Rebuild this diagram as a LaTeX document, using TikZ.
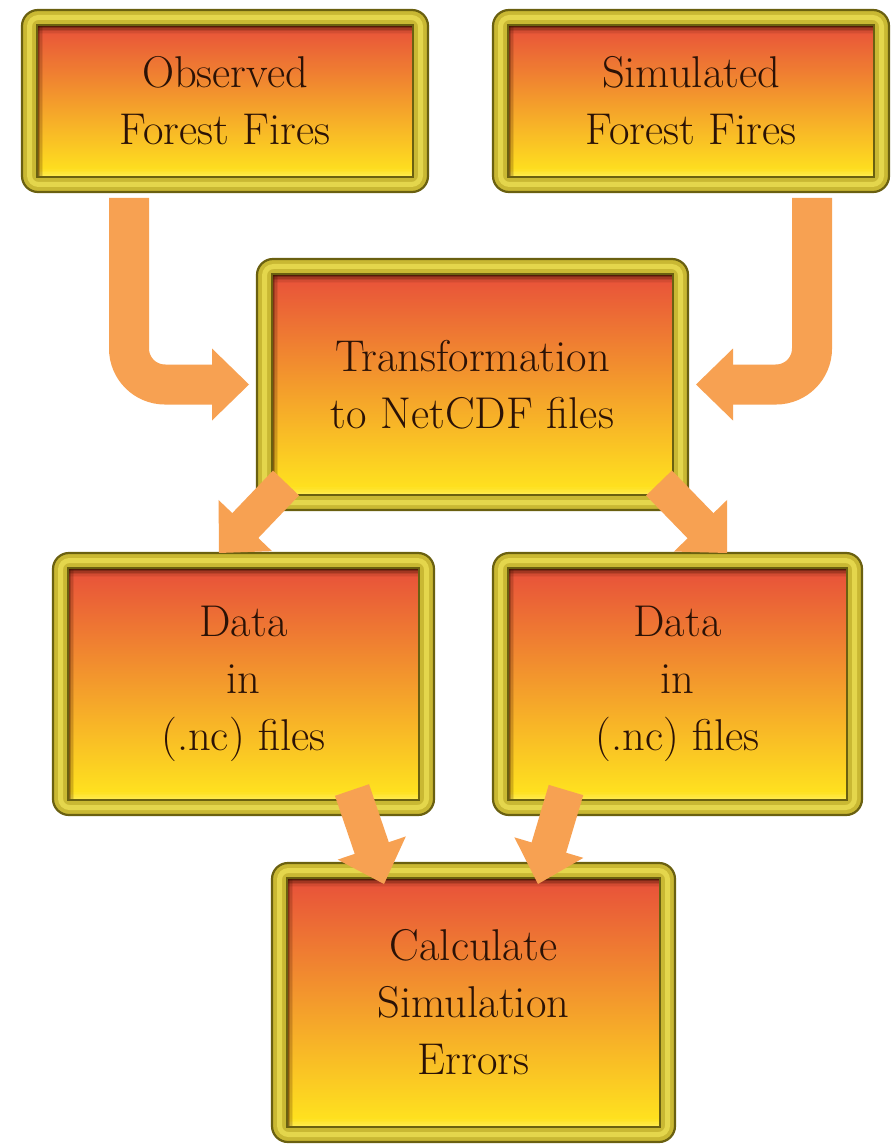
\documentclass[tikz,border=0pt]{standalone}
\usetikzlibrary{calc}
\definecolor{arrowcol}{HTML}{F7A152}
\definecolor{framecol}{HTML}{C9B833}
\definecolor{frameedge}{HTML}{6A6010}
\definecolor{framehi}{HTML}{E4D64C}
\definecolor{topcol}{HTML}{E8503A}
\definecolor{midcol}{HTML}{F4982E}
\definecolor{botcol}{HTML}{FFE61E}
\definecolor{txtcol}{HTML}{2B1206}
\definecolor{shadecol}{HTML}{3A1000}
\definecolor{lightstrip}{HTML}{FFF6A0}

\newcommand\blockarrow[4]{% start, tip, head half width, shaft width
  \coordinate (bab) at ($(#2)!38pt!(#1)$);
  \coordinate (bae) at ($(#2)!30pt!(#1)$);
  \draw[arrowcol, line width=#4] (#1) -- (bae);
  \fill[arrowcol] ($(bab)!#3!90:(#2)$) -- (#2) -- ($(bab)!#3!-90:(#2)$) -- cycle;}

\tikzset{
  fancybox/.style n args={2}{rectangle, rounded corners=16pt,
    minimum width=#1, minimum height=#2, inner sep=0pt, outer sep=0pt,
    fill=framecol, draw=frameedge, line width=2.2pt, align=center,
    text=txtcol, font=\fontsize{44.5}{57}\selectfont,
    path picture={
      \coordinate (ppsw) at (path picture bounding box.south west);
      \coordinate (ppne) at (path picture bounding box.north east);
      \coordinate (ppnw) at (path picture bounding box.north west);
      \coordinate (ppse) at (path picture bounding box.south east);
      \draw[framehi, line width=5pt, rounded corners=9pt]
        ($(ppsw)+(7.5pt,7.5pt)$) rectangle ($(ppne)+(-7.5pt,-7.5pt)$);
      \shade[sharp corners, top color=topcol, middle color=midcol, bottom color=botcol]
        ($(ppsw)+(15pt,15pt)$) rectangle ($(ppne)+(-15pt,-15pt)$);
      \foreach \d/\o in {1pt/0.35,2.5pt/0.28,4pt/0.2,5.5pt/0.12,7pt/0.06}
        \draw[sharp corners, lightstrip, opacity=\o, line width=1.6pt]
          ($(ppsw)+(15pt,15pt+\d)$) -- ($(ppse)+(-15pt,15pt+\d)$);
      \foreach \d/\o in {1pt/0.85,2.5pt/0.6,4pt/0.4,5.5pt/0.25,7pt/0.12,8.5pt/0.05}
        \draw[sharp corners, shadecol, opacity=\o, line width=1.6pt]
          ($(ppnw)+(15pt,-15pt-\d)$) -- ($(ppne)+(-15pt,-15pt-\d)$);
      \foreach \d/\o in {1pt/0.6,2.5pt/0.4,4pt/0.22,5.5pt/0.1}
        \draw[sharp corners, shadecol, opacity=\o, line width=1.6pt]
          ($(ppnw)+(15pt+\d,-15pt)$) -- ($(ppsw)+(15pt+\d,15pt)$);
      \draw[sharp corners, frameedge, line width=1.2pt]
        ($(ppsw)+(15pt,15pt)$) rectangle ($(ppne)+(-15pt,-15pt)$);
    }}
}

\begin{document}
\begin{tikzpicture}[x=1pt,y=-1pt]
\fill[white] (0,0) rectangle (891,1147);
\useasboundingbox (0,0) rectangle (891,1147);

\node[fancybox={406pt}{182pt}] (obs)   at (225,101)    {Observed\\Forest Fires};
\node[fancybox={396pt}{182pt}] (sim)   at (691,101)    {Simulated\\Forest Fires};
\node[fancybox={431pt}{251pt}] (trans) at (472.5,384.5) {Transformation\\to NetCDF files};
\node[fancybox={381pt}{262pt}] (datal) at (243.5,684)  {Data\\in\\(.nc) files};
\node[fancybox={369pt}{262pt}] (datar) at (677.5,684)  {Data\\in\\(.nc) files};
\node[fancybox={403pt}{279pt}] (calc)  at (473.5,1002.5) {Calculate\\Simulation\\Errors};

% bent arrows into the transformation box
\coordinate (l1s) at ($(obs.south west)+(107pt,-6pt)$);
\draw[arrowcol, line width=40pt, rounded corners=36pt] (l1s) |- ([xshift=-40pt]trans.west);
\fill[arrowcol] ([xshift=-45pt,yshift=36pt]trans.west) -- ([xshift=-8pt]trans.west)
  -- ([xshift=-45pt,yshift=-36pt]trans.west) -- cycle;

\coordinate (r1s) at ($(sim.south east)+(-77pt,-6pt)$);
\draw[arrowcol, line width=40pt, rounded corners=36pt] (r1s) |- ([xshift=40pt]trans.east);
\fill[arrowcol] ([xshift=45pt,yshift=36pt]trans.east) -- ([xshift=8pt]trans.east)
  -- ([xshift=45pt,yshift=-36pt]trans.east) -- cycle;

% diagonal arrows
\coordinate (d1s) at ([xshift=29pt,yshift=27pt]trans.south west);
\coordinate (d1t) at ([xshift=166pt]datal.north west);
\blockarrow{d1s}{d1t}{37pt}{36pt}

\coordinate (d2s) at ([xshift=-29pt,yshift=27pt]trans.south east);
\coordinate (d2t) at ([xshift=-135pt]datar.north east);
\blockarrow{d2s}{d2t}{37pt}{36pt}

\coordinate (d3s) at ([xshift=-82pt,yshift=25pt]datal.south east);
\coordinate (d3t) at ([xshift=112pt,yshift=-21pt]calc.north west);
\blockarrow{d3s}{d3t}{36pt}{36pt}

\coordinate (d4s) at ([xshift=73pt,yshift=25pt]datar.south west);
\coordinate (d4t) at ([xshift=266pt,yshift=-21pt]calc.north west);
\blockarrow{d4s}{d4t}{36pt}{36pt}
\end{tikzpicture}
\end{document}
